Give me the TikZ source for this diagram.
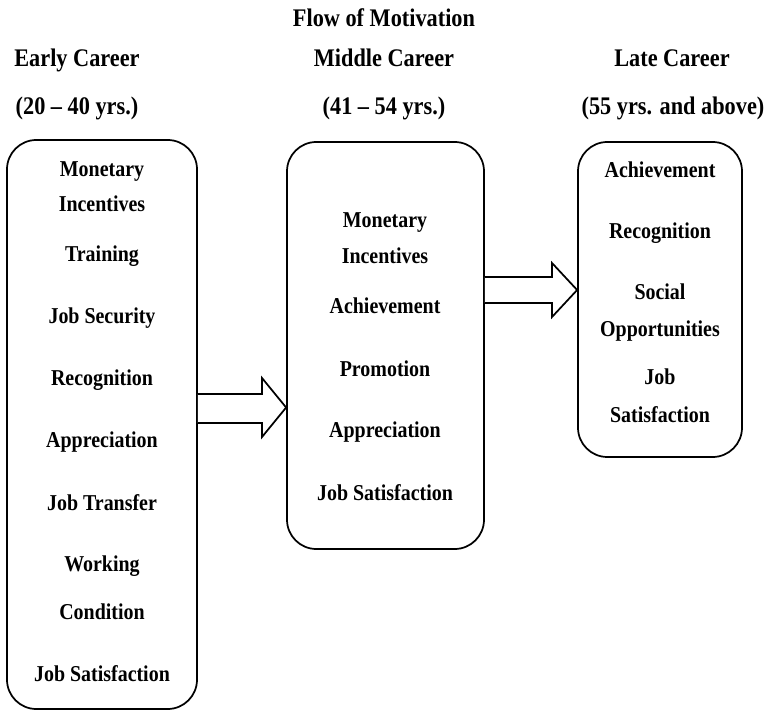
\documentclass[tikz,border=0pt]{standalone}
\usepackage{fontspec}
\setmainfont{Liberation Serif}[FakeStretch=0.88]
\begin{document}
\begin{tikzpicture}[x=0.75pt,y=-0.75pt,
  box/.style={draw,line width=1.3pt,rounded corners=22pt,inner sep=0pt},
  item/.style={font=\fontsize{17}{20}\selectfont\bfseries,anchor=base,inner sep=0pt},
  head/.style={font=\fontsize{19}{22}\selectfont\bfseries,anchor=base,inner sep=0pt},
  blockarrow/.style={draw,line width=1.3pt,line join=miter,fill=white}]
\useasboundingbox (0,0) rectangle (767,712);
% boxes
\node[box,minimum width=142.5pt,minimum height=426.75pt] (L) at (102,424.5) {};
\node[box,minimum width=147.75pt,minimum height=305.25pt] (M) at (385.5,345.5) {};
\node[box,minimum width=123pt,minimum height=236.25pt] (R) at (660,299.5) {};
% headings
\node[head] (title) at (384,27) {Flow of Motivation};
\node[head] (h1) at (77,67) {Early Career};
\node[head] (h1b) at (77,115) {(20 – 40 yrs.)};
\node[head] (h2) at (384,67) {Middle Career};
\node[head] (h2b) at (384,115) {(41 – 54 yrs.)};
\node[head] (h3) at (672,67) {Late Career};
\node[head] (h3b) at (673,115) {(55 yrs. and above)};
% left items
\node[item] (l1) at (102,177) {Monetary};
\node[item] (l2) at (102,212) {Incentives};
\node[item] (l3) at (102,262) {Training};
\node[item] (l4) at (102,324) {Job Security};
\node[item] (l5) at (102,386) {Recognition};
\node[item] (l6) at (102,448) {Appreciation};
\node[item] (l7) at (102,510) {Job Transfer};
\node[item] (l8) at (102,571) {Working};
\node[item] (l9) at (102,619) {Condition};
\node[item] (l10) at (102,681) {Job Satisfaction};
% middle items
\node[item] (m1) at (385,228) {Monetary};
\node[item] (m2) at (385,264) {Incentives};
\node[item] (m3) at (385,314) {Achievement};
\node[item] (m4) at (385,377) {Promotion};
\node[item] (m5) at (385,438) {Appreciation};
\node[item] (m6) at (385,500) {Job Satisfaction};
% right items
\node[item] (r1) at (660,178) {Achievement};
\node[item] (r2) at (660,239) {Recognition};
\node[item] (r3) at (660,300) {Social};
\node[item] (r4) at (660,337) {Opportunities};
\node[item] (r5) at (660,385) {Job};
\node[item] (r6) at (660,423) {Satisfaction};
% block arrows
\draw[blockarrow] (L.east |- 0,394) -- (262,394) -- (262,378) -- (M.west |- 0,407.5)
  -- (262,437) -- (262,423) -- (L.east |- 0,423);
\draw[blockarrow] (M.east |- 0,277) -- (552,277) -- (552,263) -- (R.west |- 0,290)
  -- (552,317) -- (552,303) -- (M.east |- 0,303);
\end{tikzpicture}
\end{document}
